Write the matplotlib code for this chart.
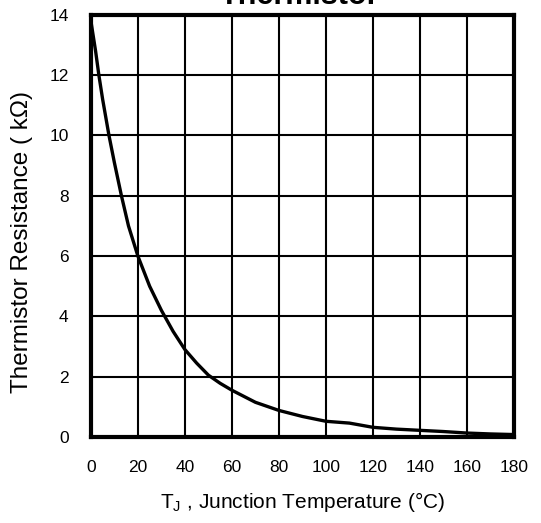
import matplotlib.pyplot as plt

plt.rcParams["font.family"] = ["Liberation Sans", "DejaVu Sans"]

# Curve values
temp_c = [0, 2, 3.4, 5, 7.7, 10, 13, 16, 20, 25, 30, 35, 40, 45, 50, 55, 60, 70, 80,
          90, 100, 110, 120, 130, 140, 150, 160, 170, 180]
resistance_k = [13.8, 12.8, 12.0, 11.2, 10.0, 9.1, 8.0, 7.0, 6.0, 5.0, 4.2, 3.5, 2.9,
                2.45, 2.05, 1.78, 1.55, 1.15, 0.88, 0.68, 0.52, 0.46, 0.32, 0.26, 0.22,
                0.18, 0.13, 0.1, 0.08]

x_ticks = list(range(0, 181, 20))
y_ticks = list(range(0, 15, 2))

fig = plt.figure(figsize=(5.41, 5.23), dpi=100)
ax = fig.add_axes([0.168, 0.1645, 0.782, 0.807])

ax.plot(temp_c, resistance_k, color="black", linewidth=2.4)

ax.set_xlim(0, 180)
ax.set_ylim(0, 14)
ax.set_xticks(x_ticks)
ax.set_yticks(y_ticks)
ax.grid(True, color="black", linewidth=1.5)
ax.tick_params(length=0, labelsize=12.5)
ax.tick_params(axis="x", pad=16.5)
ax.tick_params(axis="y", pad=16)
for s in ax.spines.values():
    s.set_linewidth(3)

# title sits mostly above the image edge, like the original
fig.text(0.553, 1 - 3.5 / 523, "Thermistor", fontsize=22, fontweight="bold",
         ha="center", va="baseline")

ax.set_xlabel("T$_\\mathregular{J}$ , Junction Temperature (°C)", fontsize=15, labelpad=11)
ax.set_ylabel("Thermistor Resistance ( kΩ)", fontsize=17.5)
ax.yaxis.set_label_coords(-0.137, 0.461)

fig.savefig("out.png", dpi=100)
